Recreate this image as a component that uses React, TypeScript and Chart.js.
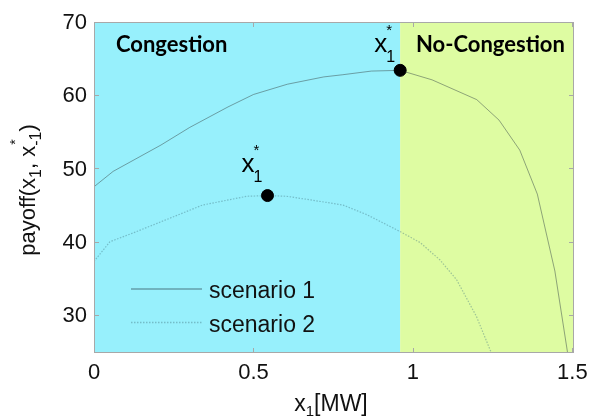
import React, { useEffect, useRef } from "react";
import { Chart, registerables } from "chart.js";

Chart.register(...registerables);

const s1X = [0, 0.06, 0.21, 0.3, 0.42, 0.5, 0.606, 0.72, 0.78, 0.87, 0.96, 1.06, 1.2, 1.27, 1.335, 1.39, 1.445, 1.485, 1.49];
const s1Y = [47.5, 49.6, 53.2, 55.6, 58.4, 60.1, 61.5, 62.5, 62.8, 63.3, 63.4, 62.1, 59.4, 56.6, 52.5, 46.5, 36.0, 24.8, 23.5];
const s2X = [0, 0.05, 0.123, 0.249, 0.34, 0.479, 0.544, 0.604, 0.68, 0.781, 0.855, 0.959, 1.022, 1.085, 1.137, 1.199, 1.246, 1.25];
const s2Y = [37.3, 40.0, 41.2, 43.4, 45.0, 46.2, 46.3, 46.2, 45.7, 45.0, 43.7, 41.4, 39.9, 37.5, 34.8, 29.8, 24.8, 24.0];
const optX = [0.544, 0.96];
const optY = [46.3, 63.4];
const seriesNames = ["scenario 1", "scenario 2"];
const xTicks = [0, 0.5, 1, 1.5];
const xTickLabels = ["0", "0.5", "1", "1.5"];
const yTicks = [30, 40, 50, 60, 70];
const yTickLabels = ["30", "40", "50", "60", "70"];
const boundary = 0.96;
const regionNames = ["Congestion", "No-Congestion"];

const CYAN = "#97f0fc";
const GREEN = "#defca2";
const LINE1 = "rgba(60,75,75,0.5)";
const LINE2 = "rgba(70,120,130,0.42)";
const LEG1 = "rgba(80,130,140,0.55)";
const SANS = "'Liberation Sans', Arial, sans-serif";

const decor = {
  id: "decor",
  beforeDatasetsDraw(chart: any) {
    const { ctx, chartArea: a, scales } = chart;
    const xb = scales.x.getPixelForValue(boundary);
    ctx.save();
    ctx.fillStyle = CYAN;
    ctx.fillRect(a.left, a.top, xb - a.left, a.bottom - a.top);
    ctx.fillStyle = GREEN;
    ctx.fillRect(xb, a.top, a.right - xb, a.bottom - a.top);
    ctx.restore();
  },
  afterDatasetsDraw(chart: any) {
    const { ctx, chartArea: a, scales } = chart;
    const xs = scales.x, ys = scales.y;
    ctx.save();
    // border
    ctx.strokeStyle = "#a8a8a8";
    ctx.lineWidth = 1;
    ctx.strokeRect(a.left + 0.5, a.top + 0.5, a.right - a.left - 1, a.bottom - a.top - 1);
    // inward ticks
    ctx.beginPath();
    xTicks.forEach((v) => {
      const px = Math.round(xs.getPixelForValue(v)) + 0.5;
      ctx.moveTo(px, a.bottom); ctx.lineTo(px, a.bottom - 5);
      ctx.moveTo(px, a.top); ctx.lineTo(px, a.top + 5);
    });
    yTicks.forEach((v) => {
      const py = Math.round(ys.getPixelForValue(v)) + 0.5;
      ctx.moveTo(a.left, py); ctx.lineTo(a.left + 5, py);
      ctx.moveTo(a.right, py); ctx.lineTo(a.right - 5, py);
    });
    ctx.stroke();
    // tick labels
    ctx.fillStyle = "#111";
    ctx.font = `22px ${SANS}`;
    ctx.textAlign = "center";
    ctx.textBaseline = "middle";
    xTicks.forEach((v, i) => {
      ctx.fillText(xTickLabels[i], xs.getPixelForValue(v), 373);
    });
    ctx.textAlign = "right";
    yTicks.forEach((v, i) => {
      ctx.fillText(yTickLabels[i], 87, ys.getPixelForValue(v) + 1);
    });
    // x label
    ctx.textAlign = "left";
    ctx.textBaseline = "alphabetic";
    ctx.font = `23px ${SANS}`;
    const xw = ctx.measureText("x").width;
    ctx.font = `15px ${SANS}`;
    const sw = ctx.measureText("1").width;
    ctx.font = `23px ${SANS}`;
    const mw = ctx.measureText("[MW]").width;
    let lx = 331 - (xw + sw + mw) / 2;
    ctx.fillText("x", lx, 411);
    ctx.font = `15px ${SANS}`;
    ctx.fillText("1", lx + xw, 416);
    ctx.font = `23px ${SANS}`;
    ctx.fillText("[MW]", lx + xw + sw, 411);
    // y label rotated
    ctx.save();
    ctx.translate(35, 190);
    ctx.rotate(-Math.PI / 2);
    const big = `22px ${SANS}`, small = `16px ${SANS}`;
    const parts: [string, string, number][] = [
      ["payoff(x", big, 0],
      ["1", small, 6],
      [", x", big, 0],
      ["-1", small, 6],
      [")", big, 0],
    ];
    let total = 0;
    parts.forEach(([t, f]) => { ctx.font = f; total += ctx.measureText(t).width; });
    let cx = -total / 2;
    parts.forEach(([t, f, dy], i) => {
      ctx.font = f;
      ctx.fillText(t, cx, dy);
      if (i === 3) {
        ctx.font = `14px ${SANS}`;
        ctx.fillText("*", cx + 1, -15);
      }
      ctx.font = f;
      cx += ctx.measureText(t).width;
    });
    ctx.restore();
    // legend
    const leg = [
      { y: 289, c: LEG1, dash: [] as number[], w: 2 },
      { y: 322.5, c: LINE2, dash: [1.5, 1.5], w: 1.5 },
    ];
    leg.forEach((l, i) => {
      ctx.beginPath();
      ctx.strokeStyle = l.c;
      ctx.lineWidth = l.w;
      ctx.setLineDash(l.dash);
      ctx.moveTo(131, l.y);
      ctx.lineTo(202, l.y);
      ctx.stroke();
      ctx.setLineDash([]);
      ctx.fillStyle = "#111";
      ctx.font = `23px ${SANS}`;
      ctx.fillText(seriesNames[i], 209, l.y + 9);
    });
    // region names
    ctx.font = "bold 22px Lato, 'Open Sans', sans-serif";
    ctx.fillStyle = "#000";
    ctx.fillText(regionNames[0], 116, 52);
    ctx.fillText(regionNames[1], 416, 52);
    // optimum annotations
    const offs = [[-26, -24], [-26, -18]];
    optX.forEach((v, i) => {
      const px = xs.getPixelForValue(v) + offs[i][0];
      const py = ys.getPixelForValue(optY[i]) + offs[i][1];
      ctx.font = `26px ${SANS}`;
      ctx.fillText("x", px, py);
      const w = ctx.measureText("x").width;
      ctx.font = `16px ${SANS}`;
      ctx.fillText("1", px + w - 1, py + 10);
      ctx.font = `15px ${SANS}`;
      ctx.fillText("*", px + w - 1, py - 17);
    });
    ctx.restore();
  },
};

export default function App() {
  const ref = useRef<HTMLCanvasElement>(null);
  useEffect(() => {
    const chart = new Chart(ref.current!, {
      type: "line",
      data: {
        datasets: [
          {
            type: "scatter",
            label: "optimum",
            data: optX.map((x, i) => ({ x, y: optY[i] })),
            pointRadius: 6,
            pointBackgroundColor: "#000",
            pointBorderColor: "#000",
            showLine: false,
            order: 0,
          } as any,
          {
            label: seriesNames[0],
            data: s1X.map((x, i) => ({ x, y: s1Y[i] })),
            borderColor: LINE1,
            borderWidth: 1,
            pointRadius: 0,
            tension: 0,
            order: 2,
          },
          {
            label: seriesNames[1],
            data: s2X.map((x, i) => ({ x, y: s2Y[i] })),
            borderColor: LINE2,
            borderWidth: 1.2,
            borderDash: [1.5, 1.5],
            pointRadius: 0,
            tension: 0,
            order: 1,
          },
        ],
      },
      options: {
        animation: false,
        responsive: false,
        layout: { padding: { left: 0, right: 19, top: 22, bottom: 0 } },
        plugins: { legend: { display: false }, tooltip: { enabled: false } },
        scales: {
          x: {
            type: "linear",
            min: 0,
            max: 1.505,
            grid: { display: false },
            border: { display: false },
            ticks: { display: false },
            afterFit: (s: any) => { s.height = 63; },
          },
          y: {
            type: "linear",
            min: 24.8,
            max: 70,
            grid: { display: false },
            border: { display: false },
            ticks: { display: false },
            afterFit: (s: any) => { s.width = 94; },
          },
        },
      },
      plugins: [decor],
    });
    return () => chart.destroy();
  }, []);
  return (
    <div style={{ position: "fixed", left: 0, top: 0, width: 593, height: 416, background: "#fff" }}>
      <canvas ref={ref} width={593} height={416} style={{ width: 593, height: 416 }} />
    </div>
  );
}
